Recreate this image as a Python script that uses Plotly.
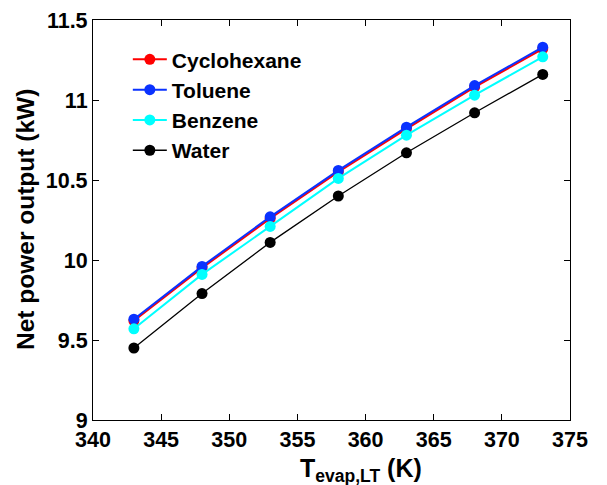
import plotly.graph_objects as go

temps = [343, 348, 353, 358, 363, 368, 373]
cyclohexane = [9.62, 9.95, 10.26, 10.55, 10.82, 11.08, 11.32]
toluene = [9.63, 9.96, 10.27, 10.56, 10.83, 11.09, 11.33]
benzene = [9.57, 9.91, 10.21, 10.51, 10.78, 11.03, 11.27]
water = [9.45, 9.79, 10.11, 10.40, 10.67, 10.92, 11.16]

series = [
    ("Cyclohexane", cyclohexane, "#ff0000", 2),
    ("Toluene", toluene, "#0a32ff", 2),
    ("Benzene", benzene, "#00ffff", 2),
    ("Water", water, "#000000", 1.3),
]

fig = go.Figure()
for name, vals, col, w in series:
    fig.add_trace(go.Scatter(
        x=temps, y=vals, name=name, mode="lines+markers",
        line=dict(color=col, width=w),
        marker=dict(color=col, size=11, symbol="circle"),
        legendgroup=name,
    ))

font_family = "Liberation Sans, Arial, sans-serif"
fig.update_layout(
    template="none",
    width=607, height=485,
    margin=dict(l=85, r=45, t=12, b=73, autoexpand=False),
    paper_bgcolor="white", plot_bgcolor="white",
    font=dict(family=font_family, color="black", size=20),
    showlegend=True,
    legend=dict(
        x=0.073, y=0.952, xanchor="left", yanchor="top",
        bgcolor="rgba(0,0,0,0)", borderwidth=0,
        font=dict(size=21, family=font_family, weight="bold"),
        tracegroupgap=0, itemwidth=34,
    ),
    xaxis=dict(
        range=[340, 375], dtick=5, tick0=340, automargin=False,
        showline=True, linecolor="black", linewidth=1.2, mirror="ticks",
        ticks="inside", ticklen=6, tickcolor="black", tickwidth=1,
        showgrid=False, zeroline=False,
        tickfont=dict(size=21.5, family=font_family, weight="bold"),
    ),
    yaxis=dict(
        range=[9, 11.5], dtick=0.5, tick0=9, automargin=False,
        showline=True, linecolor="black", linewidth=1.2, mirror="ticks",
        ticks="inside", ticklen=6, tickcolor="black", tickwidth=1,
        showgrid=False, zeroline=False,
        tickfont=dict(size=21.5, family=font_family, weight="bold"),
    ),
    annotations=[
        dict(text="T<sub>evap,LT</sub> (K)", xref="x", yref="paper",
             x=359.7, y=0, yshift=-32, xanchor="center", yanchor="top",
             showarrow=False,
             font=dict(size=25, family=font_family, weight="bold")),
        dict(text="Net power output (kW)", xref="paper", yref="paper",
             x=0, y=0.5, xshift=-68, yshift=0, xanchor="center", yanchor="middle",
             textangle=-90, showarrow=False,
             font=dict(size=24.5, family=font_family, weight="bold")),
    ],
)

fig.write_html("out.html")
